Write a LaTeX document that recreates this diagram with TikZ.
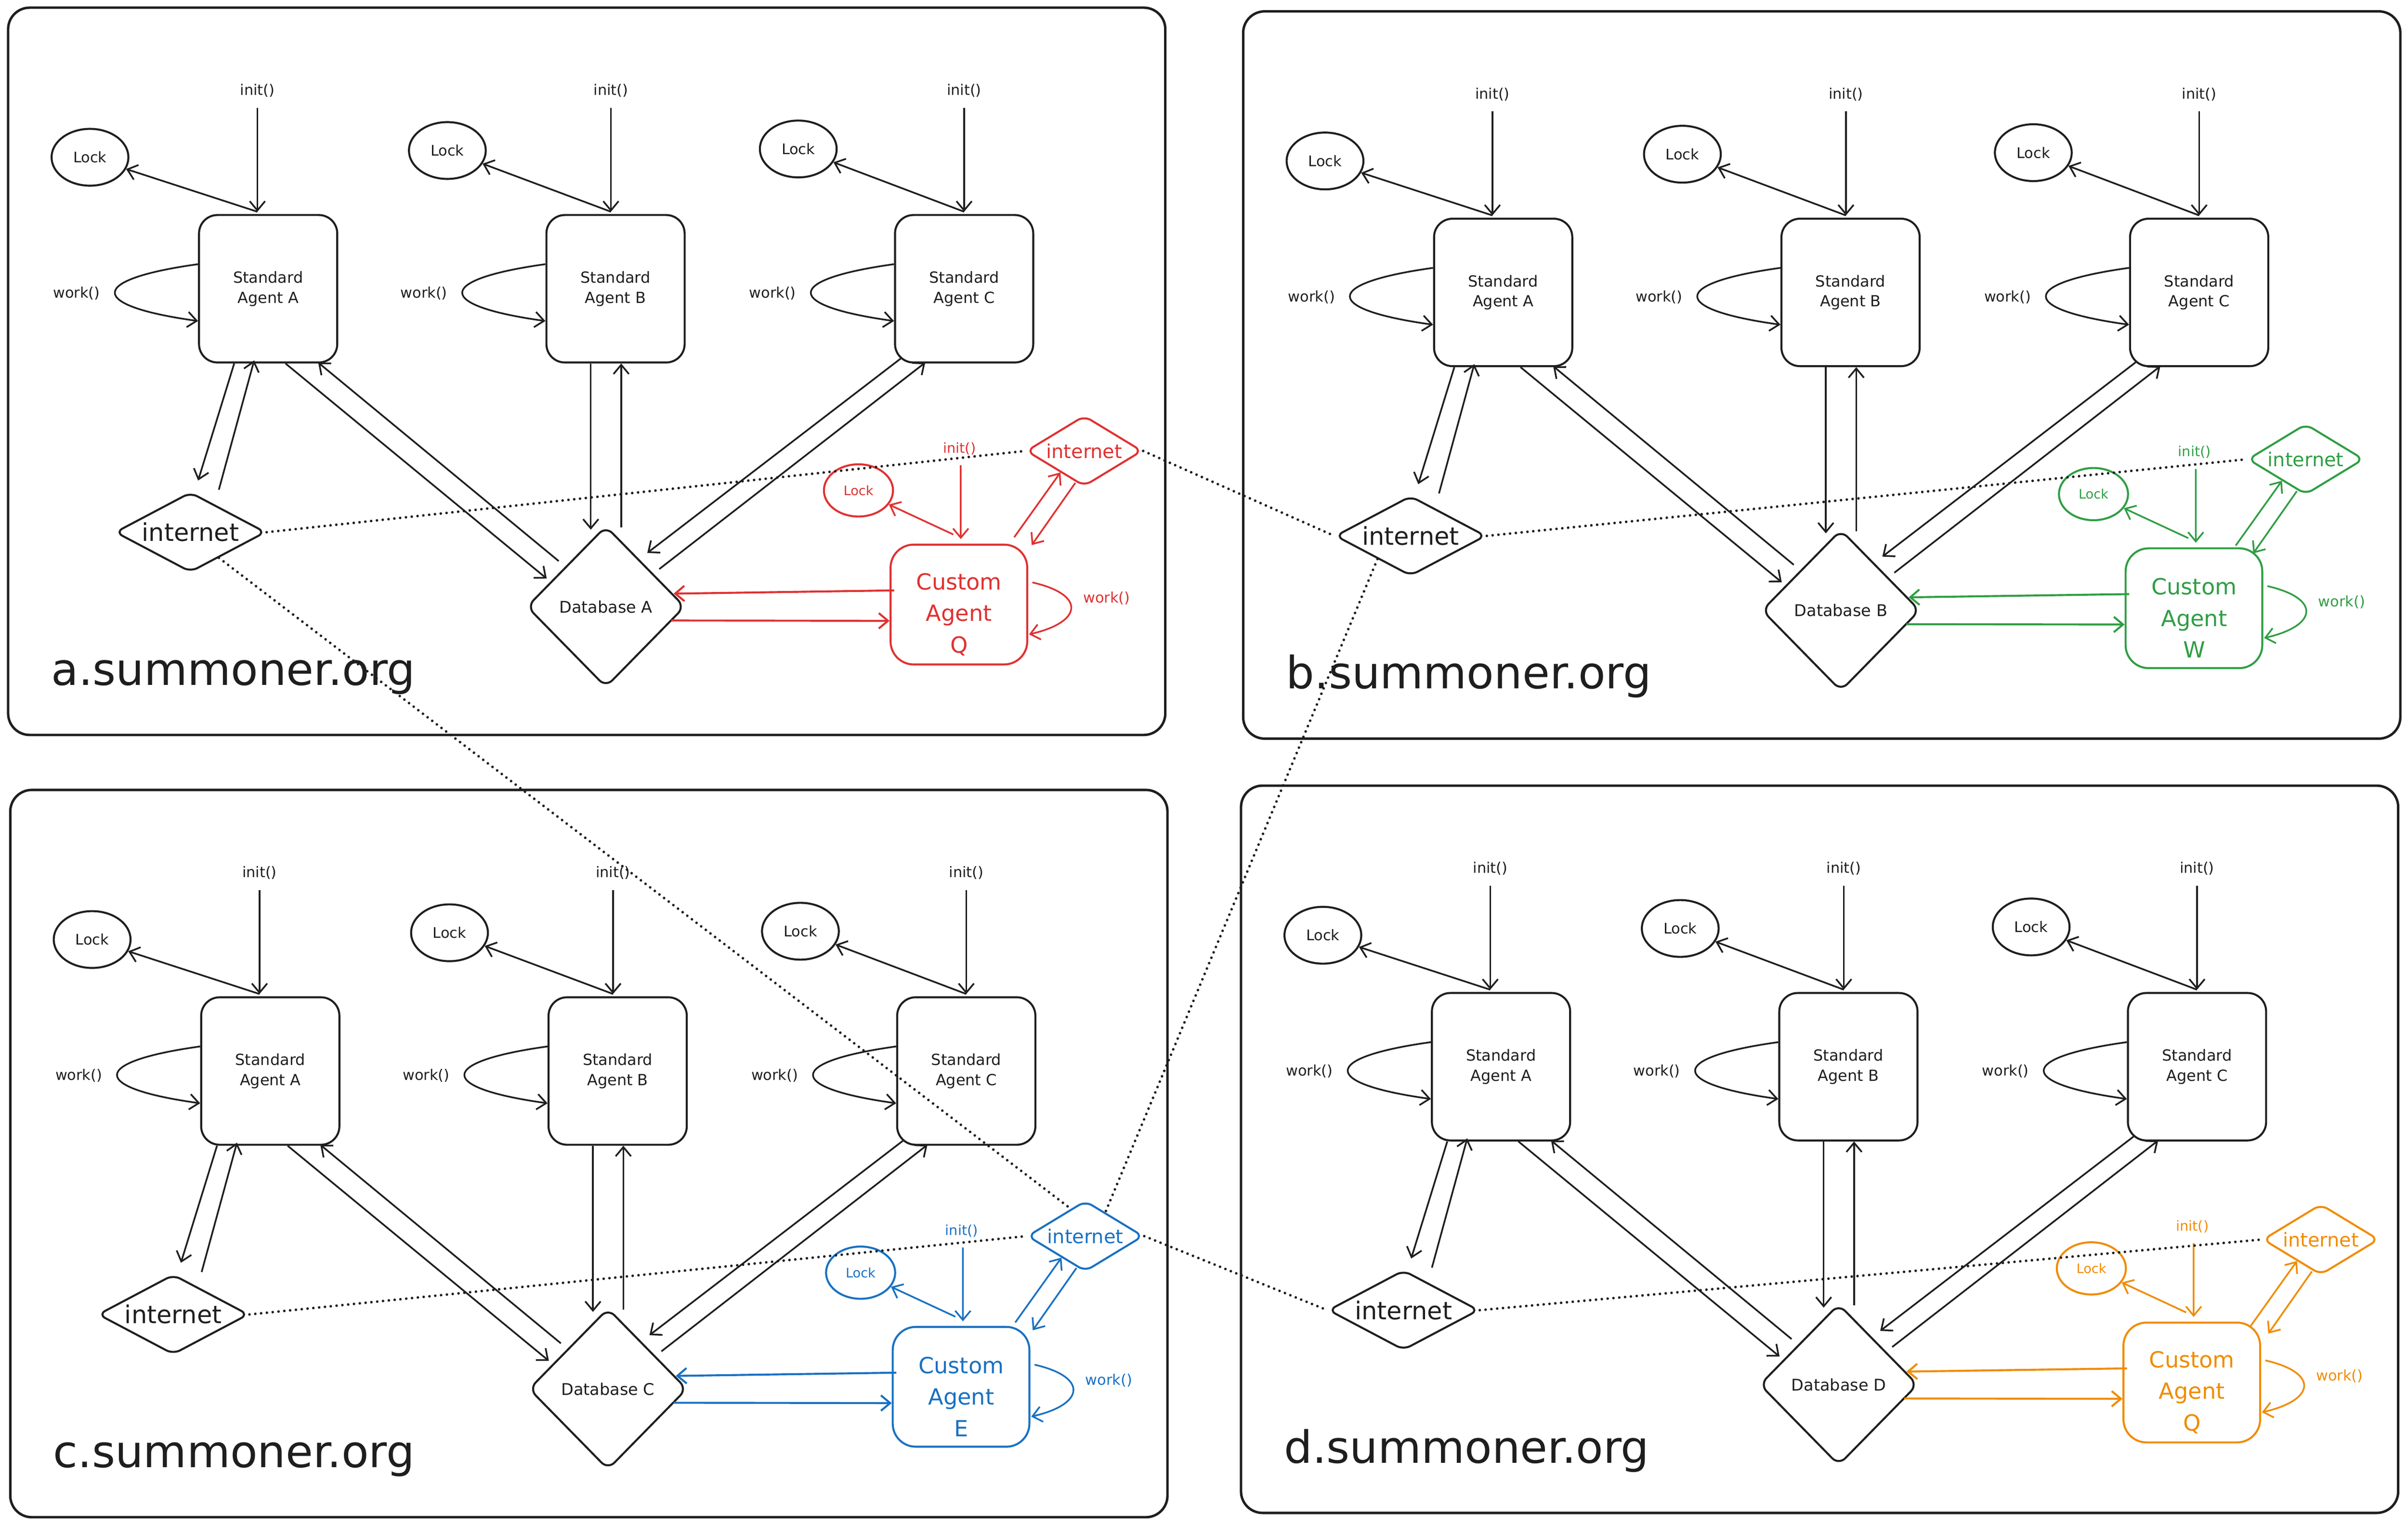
\documentclass[tikz,border=0pt]{standalone}
\usepackage{fontspec}
\setmainfont{DejaVu Sans}
\usetikzlibrary{arrows.meta, shapes.geometric, calc}

\definecolor{ink}{HTML}{1E1E1E}
\definecolor{cred}{HTML}{E03131}
\definecolor{cgreen}{HTML}{2F9E44}
\definecolor{cblue}{HTML}{1971C2}
\definecolor{corange}{HTML}{F08C00}

\begin{document}
\begin{tikzpicture}[x=1pt, y=-1pt, ink, line width=1.1pt,
    >={Straight Barb[length=6pt,width=10pt]},
    agent/.style={draw, rounded corners=12pt, minimum width=90pt, minimum height=96pt, line width=1.3pt, align=center, font=\fontsize{10}{13}\selectfont},
    lock/.style={draw, ellipse, minimum width=50pt, minimum height=37pt, inner sep=0pt, line width=1.3pt, font=\fontsize{9.5}{11}\selectfont},
    small/.style={font=\fontsize{9.5}{11}\selectfont},
    net/.style={draw, diamond, aspect=1.9, minimum width=98pt, minimum height=52pt, inner sep=0pt, rounded corners=5pt, line width=1.3pt, font=\fontsize{16}{18}\selectfont},
    db/.style={draw, diamond, minimum width=103pt, minimum height=105pt, inner sep=0pt, rounded corners=6pt, line width=1.3pt, font=\fontsize{10.5}{12}\selectfont},
    site/.style={anchor=base west, font=\fontsize{29}{32}\selectfont},
    panel/.style={line width=1.6pt, rounded corners=14pt},
    link/.style={dash pattern=on 0pt off 3.8pt, line cap=round, line width=1.7pt}]
        \fill[white] (0,0) rectangle (1568,992);
        \useasboundingbox (0,0) rectangle (1568,992);
        
        \foreach \dx/\dy/\s/\db/\col/\cust/\ix/\cx/\cy in {
            0/0/a/A/cred/Q/124/706/293.6,
            804.2/2.4/b/B/cgreen/W/114.3/697.2/296.6,
            1.4/509.3/c/C/cblue/E/111.4/705.3/295.5,
            802.8/506.5/d/D/corange/Q/111.1/708.4/300.5}{
        \begin{scope}[shift={(\dx,\dy)}]
        \draw[panel] (5.3,5) rectangle (758.8,478.5);
        \node[site] (site-\s) at (29.5,446) {\s.summoner.org};
        
        % standard agents
        \foreach \n/\x/\lx/\ly/\ax in {A/174.6/58.6/102.4/-7, B/400.8/291.3/98/-3, C/627.8/519.8/97/0}{
            \node[agent] (ag\n-\s) at (\x,188) {Standard\\Agent \n};
            \node[lock] (lock\n-\s) at (\lx,\ly) {Lock};
            \node[small] (init\n-\s) at ({\x+(\ax)},59) {init()};
            \coordinate (top\n-\s) at ($(ag\n-\s.north)+(\ax,-1.5)$);
            \draw[->] ($(init\n-\s.south)+(0,3)$) -- (top\n-\s);
            \draw[->] (top\n-\s) -- (lock\n-\s);
            \draw[->] ($(ag\n-\s.west)+(0,-16)$) .. controls +(-72,10) and +(-72,-10) .. ($(ag\n-\s.west)+(0,21)$);
            \node[small, anchor=east] (work\n-\s) at ($(ag\n-\s.west)+(-60,3)$) {work()};
        }
        
        \node[net] (net-\s) at (\ix,346.5) {internet};
        \draw[->] ($(agA-\s.south -| net-\s.north)+(28.5,0)$) -- ($(net-\s.north)+(5,-7)$);
        \draw[->] ($(net-\s.north)+(18.5,-1)$) -- ($(agA-\s.south -| net-\s.north)+(41.5,-2)$);
        
        \node[db] (db-\s) at (394.5,395) {Database \db};
        \draw[->] ($(agA-\s.south)+(11.3,0)$) -- ($(db-\s.center)+(-38.5,-18.3)$);
        \draw[->] ($(db-\s.center)+(-30.7,-29.7)$) -- ($(agA-\s.south)+(32.6,-0.6)$);
        \draw[->] ($(agB-\s.south)+(-16.1,0)$) -- ($(db-\s.north)+(-9.8,3)$);
        \draw[->] ($(db-\s.north)+(10,1.5)$) -- ($(agB-\s.south)+(3.7,0)$);
        \draw[->] ($(agC-\s.south)+(-41.3,-3.2)$) -- ($(db-\s.center)+(27,-35)$);
        \draw[->] ($(db-\s.center)+(34.8,-24.5)$) -- ($(agC-\s.south)+(-25.3,-0.6)$);
        
        % custom agent
        \begin{scope}[\col]
        \node[agent, minimum width=89pt, minimum height=78pt, rounded corners=15pt] (cus-\s) at (624.4,393.6) {};
        \node[align=center, font=\fontsize{14.5}{20.5}\selectfont] (cusname-\s) at (624.5,400) {Custom\\Agent\\\cust};
        \node[lock, minimum width=45pt, minimum height=34pt, font=\fontsize{8.5}{10}\selectfont] (clock-\s) at (559,319.3) {Lock};
        \node[font=\fontsize{9}{10}\selectfont] (cinit-\s) at (624.8,292) {init()};
        \draw[->] ($(cinit-\s.south)+(0.8,3)$) -- ($(cus-\s.north)+(1.2,-3)$);
        \draw[->] ($(cus-\s.north)+(-3.7,-6)$) -- (clock-\s);
        \node[net, aspect=1.64, minimum width=75.5pt, minimum height=46pt, font=\fontsize{12.5}{14}\selectfont] (cnet-\s) at (\cx,\cy) {internet};
        \draw[->] ($(cnet-\s.center)+(-45.6,56.2)$) -- ($(cnet-\s.center)+(-15.5,14)$);
        \draw[->] ($(cnet-\s.center)+(-5.8,20.8)$) -- ($(cnet-\s.center)+(-34.2,61.3)$);
        \draw[->] ($(cus-\s.east)+(2.7,-14.4)$) .. controls +(35,8) and +(35,-8) .. ($(cus-\s.east)+(0.5,19.4)$);
        \node[small, anchor=west] (cwork-\s) at ($(cus-\s.east)+(32,-4)$) {work()};
        \draw[->, line width=1.3pt] ($(cus-\s.west)+(3,-9.2)$) -- ($(db-\s.east)+(-8,-8.5)$);
        \draw[->, line width=1.3pt] ($(db-\s.east)+(-9.5,9)$) -- ($(cus-\s.west)+(0,10.6)$);
        \end{scope}
        \end{scope}
        }
        
        % links between the sites
        \draw[link] (net-a.east) -- (cnet-a.west);
        \draw[link] (cnet-a.east) -- (net-b.west);
        \draw[link] (net-b.east) -- (cnet-b.west);
        \draw[link] (net-b.215) -- (cnet-c.50);
        \draw[link] (net-a.-42) -- (cnet-c.118);
        \draw[link] (net-c.east) -- (cnet-c.west);
        \draw[link] (cnet-c.east) -- (net-d.west);
        \draw[link] (net-d.east) -- (cnet-d.west);
    \end{tikzpicture}
\end{document}
